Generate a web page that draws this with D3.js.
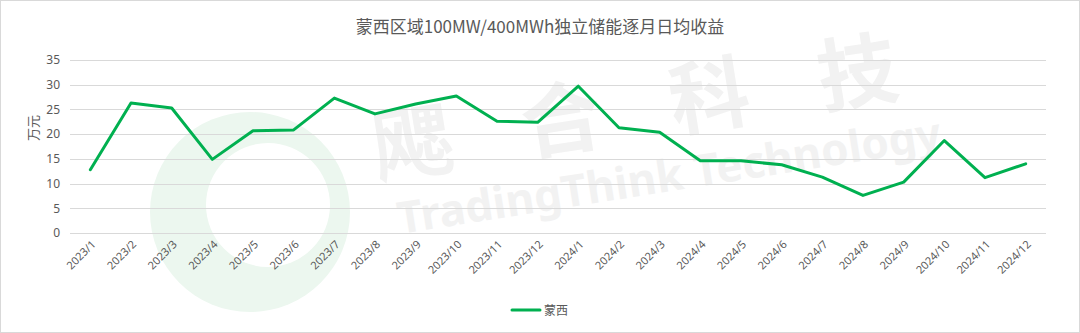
<!DOCTYPE html>
<html>
<head>
<meta charset="utf-8">
<script src="https://cdn.jsdelivr.net/npm/d3@7"></script>
<style>
  body { margin: 0; background: #fff; }
  svg { display: block; font-family: "Noto Sans CJK SC", "Noto Sans", sans-serif; }
</style>
</head>
<body>
<div id="chart"></div>
<script>
// data
const months = ["2023/1","2023/2","2023/3","2023/4","2023/5","2023/6","2023/7","2023/8","2023/9","2023/10","2023/11","2023/12",
                "2024/1","2024/2","2024/3","2024/4","2024/5","2024/6","2024/7","2024/8","2024/9","2024/10","2024/11","2024/12"];
const mengxi = [12.8, 26.3, 25.3, 14.9, 20.7, 20.85, 27.3, 24.1, 26.1, 27.7, 22.6, 22.4,
                29.7, 21.3, 20.4, 14.6, 14.6, 13.8, 11.3, 7.6, 10.3, 18.7, 11.2, 14.0];
const yTicks = [0, 5, 10, 15, 20, 25, 30, 35];
const seriesName = "蒙西";
const title = "蒙西区域100MW/400MWh独立储能逐月日均收益";
const wmChars = ["飔", "合", "科", "技"];

const W = 1080, H = 333;
const margin = { left: 70, right: 34, top: 60, bottom: 100 };
const textColor = "#595959";

const svg = d3.select("#chart").append("svg")
  .attr("width", W).attr("height", H);

// frame
svg.append("rect")
  .attr("x", 0.5).attr("y", 0.5)
  .attr("width", W - 1).attr("height", H - 1)
  .attr("fill", "#fff").attr("stroke", "#d9d9d9");

// faint watermark
const wm = svg.append("g").attr("pointer-events", "none");
wm.append("circle").attr("cx", 250).attr("cy", 212).attr("r", 100)
  .attr("fill", "#ecf7ef");
wm.append("circle").attr("cx", 268).attr("cy", 205).attr("r", 62)
  .attr("fill", "#fff");
wm.append("g").attr("transform", "translate(400,234) rotate(-9)")
  .append("text")
  .attr("font-size", 44).attr("font-weight", "bold").attr("fill", "#f2f2f2")
  .attr("font-family", "Noto Sans, sans-serif")
  .text("TradingThink Technology");
wm.append("g").attr("transform", "translate(378,178) rotate(-9)")
  .selectAll("text").data(wmChars).enter().append("text")
  .attr("x", (d, i) => i * 150)
  .attr("font-size", 80).attr("font-weight", "bold").attr("fill", "#f2f2f2")
  .text(d => d);

const x = d3.scaleBand().domain(months).range([margin.left, W - margin.right]);
const y = d3.scaleLinear().domain([0, 35]).range([233, margin.top]);

// gridlines
svg.append("g").selectAll("line")
  .data(yTicks).enter().append("line")
  .attr("x1", margin.left).attr("x2", W - margin.right)
  .attr("y1", d => Math.round(y(d)) + 0.5).attr("y2", d => Math.round(y(d)) + 0.5)
  .attr("stroke", "#d9d9d9").attr("stroke-width", 1);

// y axis
const yAxis = svg.append("g")
  .attr("transform", "translate(" + margin.left + ",0)")
  .call(d3.axisLeft(y).tickValues(yTicks).tickSize(0).tickPadding(10));
yAxis.select(".domain").remove();
yAxis.selectAll("text").attr("fill", textColor).attr("font-size", 12)
  .attr("font-family", "Noto Sans, sans-serif");

// x axis
const xAxis = svg.append("g")
  .attr("transform", "translate(0,233)")
  .call(d3.axisBottom(x).tickSize(0).tickPadding(0));
xAxis.select(".domain").remove();
xAxis.selectAll("text")
  .attr("fill", textColor).attr("font-size", 11)
  .attr("font-family", "Noto Sans, sans-serif")
  .attr("dy", 0).attr("y", 0)
  .style("text-anchor", "end")
  .attr("transform", "translate(6,12) rotate(-45)");

// line
const line = d3.line()
  .x((d, i) => x(months[i]) + x.bandwidth() / 2)
  .y(d => y(d));
svg.append("path")
  .datum(mengxi)
  .attr("d", line)
  .attr("fill", "none")
  .attr("stroke", "#00b050")
  .attr("stroke-width", 3)
  .attr("stroke-linejoin", "round")
  .attr("stroke-linecap", "round");

// title
svg.append("text")
  .attr("x", W / 2).attr("y", 33)
  .attr("text-anchor", "middle")
  .attr("font-size", 17).attr("fill", textColor)
  .text(title);

// y label
svg.append("text")
  .attr("transform", "translate(38,128) rotate(-90)")
  .attr("text-anchor", "middle")
  .attr("font-size", 13).attr("fill", textColor)
  .text("万元");

// legend
const lg = svg.append("g").attr("transform", "translate(512,310)");
lg.append("line").attr("x1", 0).attr("x2", 28).attr("y1", 0).attr("y2", 0)
  .attr("stroke", "#00b050").attr("stroke-width", 3).attr("stroke-linecap", "round");
lg.append("text").attr("x", 32).attr("y", 4.5)
  .attr("font-size", 12).attr("fill", textColor)
  .text(seriesName);
</script>
</body>
</html>
